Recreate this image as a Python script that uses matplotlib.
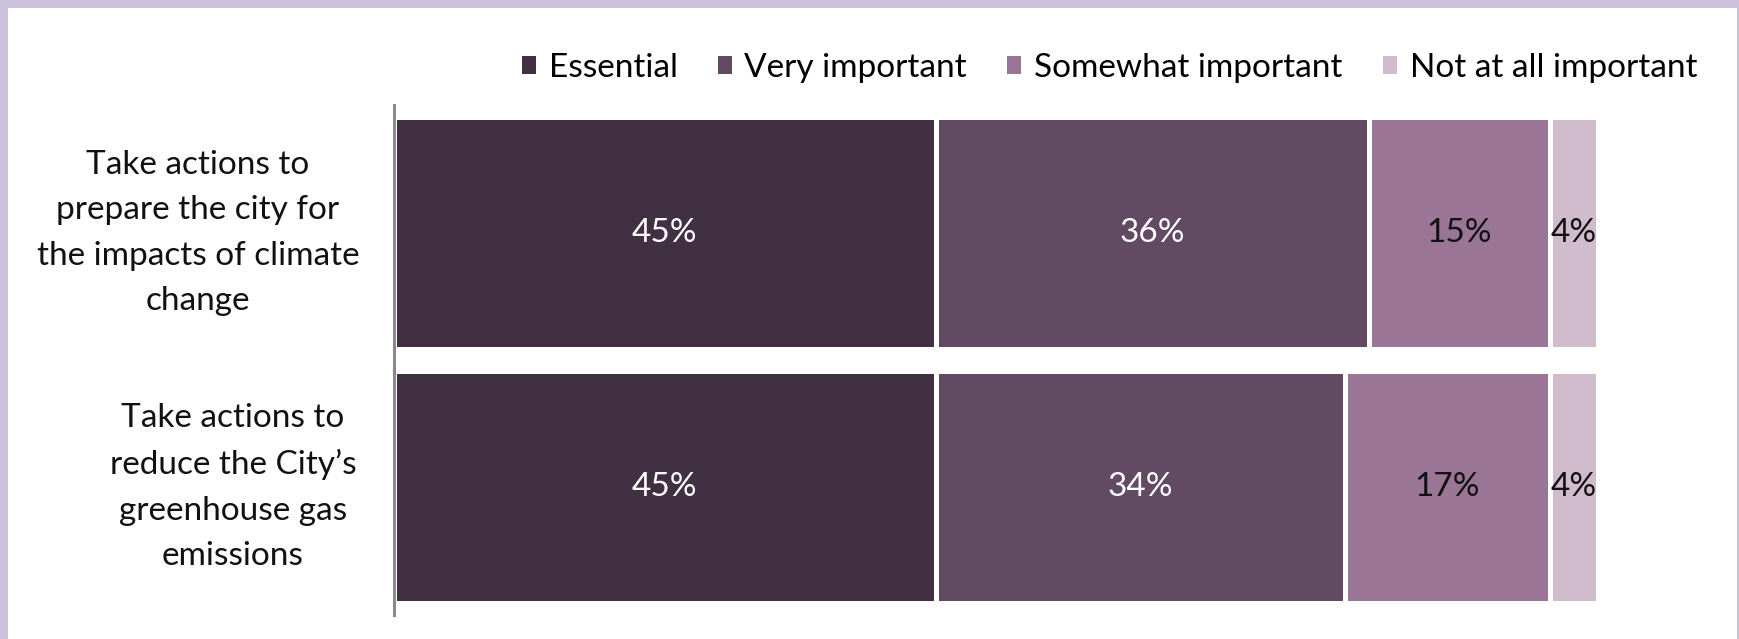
import matplotlib
matplotlib.use("Agg")
import matplotlib.pyplot as plt
from matplotlib.patches import Rectangle, Patch

categories = [
    "Take actions to\nprepare the city for\nthe impacts of climate\nchange",
    "Take actions to\nreduce the City\u2019s\ngreenhouse gas\nemissions",
]
series_names = ["Essential", "Very important", "Somewhat important", "Not at all important"]
essential = [45, 45]
very_important = [36, 34]
somewhat_important = [15, 17]
not_at_all_important = [4, 4]
series_values = [essential, very_important, somewhat_important, not_at_all_important]

colors = ["#413042", "#624a62", "#9a7596", "#d1bccd"]
text_colors = ["white", "white", "#111111", "#111111"]

W, H = 1739, 639
fig = plt.figure(figsize=(W / 100, H / 100), dpi=100)
fig.patch.set_facecolor("#cbc1dc")
fig.patches.append(Rectangle((8 / W, 0), (1737 - 8) / W, (H - 8) / H,
                             transform=fig.transFigure, facecolor="white",
                             edgecolor="none", zorder=-10))

FONT = "Lato"
FS = 24

ax = fig.add_axes([394 / W, 1 - 615 / H, 1204 / W, 510 / H])
ax.set_facecolor("none")
ypos = list(range(len(categories)))
left = [0] * len(categories)
for name, vals, col, tcol in zip(series_names, series_values, colors, text_colors):
    bars = ax.barh(ypos, vals, left=left, height=0.91, color=col,
                   edgecolor="white", linewidth=3.6, label=name)
    for b, v in zip(bars, vals):
        ax.text(b.get_x() + b.get_width() / 2, b.get_y() + b.get_height() / 2,
                f"{v}%", ha="center", va="center", color=tcol,
                fontsize=FS, family=FONT)
    left = [l + v for l, v in zip(left, vals)]

ax.set_xlim(0, 100)
ax.set_ylim(1.504, -0.504)
ax.set_xticks([])
ax.set_yticks([])
for s in ["top", "right", "bottom"]:
    ax.spines[s].set_visible(False)
ax.spines["left"].set_color("#8a8a8a")
ax.spines["left"].set_linewidth(2.2)

label_offsets = [-196, -161]
for i, (cat, dx) in enumerate(zip(categories, label_offsets)):
    ax.annotate(cat, xy=(0, i), xycoords=("axes fraction", "data"),
                xytext=(dx, 0), textcoords="offset pixels",
                ha="center", va="center", multialignment="center",
                fontsize=FS, family=FONT, linespacing=1.63, color="#111111")

handles = [Patch(facecolor=c, edgecolor="none") for c in colors]
fig.legend(handles, series_names, loc="center right",
           bbox_to_anchor=(1697 / W, 1 - 68 / H), ncol=4, frameon=False,
           prop={"family": FONT, "size": FS}, handlelength=0.42,
           handleheight=0.45, handletextpad=0.39, columnspacing=1.2,
           borderaxespad=0, borderpad=0)

fig.savefig("out.png", dpi=100, facecolor=fig.get_facecolor())
